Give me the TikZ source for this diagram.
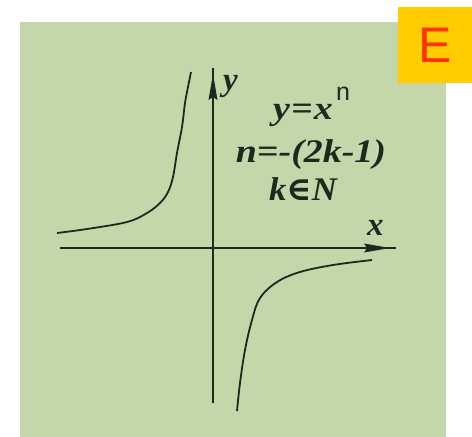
\documentclass[tikz,border=0pt]{standalone}
\usepackage{fontspec}
\setmainfont{Liberation Serif}
\newfontfamily\sansE{Liberation Sans}
\newfontfamily\symfont{DejaVu Serif}
\usetikzlibrary{arrows.meta}
\definecolor{bggreen}{RGB}{195,215,170}
\definecolor{boxorange}{RGB}{255,204,0}
\definecolor{letterred}{RGB}{255,51,0}
\definecolor{ink}{RGB}{30,40,30}
\begin{document}
\begin{tikzpicture}[x=1pt,y=-1pt,
  axisline/.style={draw=ink,line width=2.2pt},
  curveline/.style={draw=ink,line width=1.8pt},
  lbl/.style={text=ink,font=\fontsize{33}{33}\selectfont\bfseries\itshape,inner sep=0pt}]
\useasboundingbox (0,0) rectangle (472,437);
\fill[white] (0,0) rectangle (472,437);
\fill[bggreen] (20,22) rectangle (446,437);
\node[fill=boxorange,minimum width=75pt,minimum height=76pt,inner sep=0pt] (ebox) at (435,45) {};
\node[text=letterred,font=\fontsize{50}{50}\selectfont\sansE,inner sep=0pt] (eletter) at (ebox.center) {E};
% axes
\coordinate (xl) at (60,248);
\coordinate (xr) at (396,248);
\coordinate (yb) at (213,403);
\coordinate (yt) at (213,68);
\draw[axisline] (xl) -- (xr);
\draw[axisline] (yb) -- (yt);
\coordinate (xtip) at (390,248);
\coordinate (ytip) at (213,74);
\fill[ink] (xtip) -- ++(-26,-4.5) -- ++(3,4.5) -- ++(-3,4.5) -- cycle;
\fill[ink] (ytip) -- ++(-4.5,26) -- ++(4.5,-3) -- ++(4.5,3) -- cycle;
% curves
\draw[curveline] plot[smooth,tension=0.6] coordinates {(57,233) (87,229) (127,222) (147,213) (160,203) (168,192) (173,177) (177,153) (182,127) (185,103) (188,87) (191,72)};
\draw[curveline] plot[smooth,tension=0.6] coordinates {(237,411) (240,383) (245,350) (252,320) (260,298) (277,282) (300,272) (333,265) (372,260)};
% labels
\node[lbl,anchor=base west] (ylab) at (223,90) {y};
\node[lbl,anchor=base west] (xlab) at (367,235) {x};
\node[lbl,anchor=base,xscale=1.15] (f1) at (303,119) {y\kern1pt=\kern1pt x};
\node[text=ink,font=\fontsize{25}{25}\selectfont\sansE,anchor=base west,inner sep=0pt] (sup) at (336,100) {n};
\node[lbl,anchor=base,xscale=1.15] (f2) at (311,162) {n=-(2k-1)};
\node[lbl,anchor=base,xscale=1.05] (f3) at (303,200) {k{\symfont\bfseries ∈}N};
\end{tikzpicture}
\end{document}
